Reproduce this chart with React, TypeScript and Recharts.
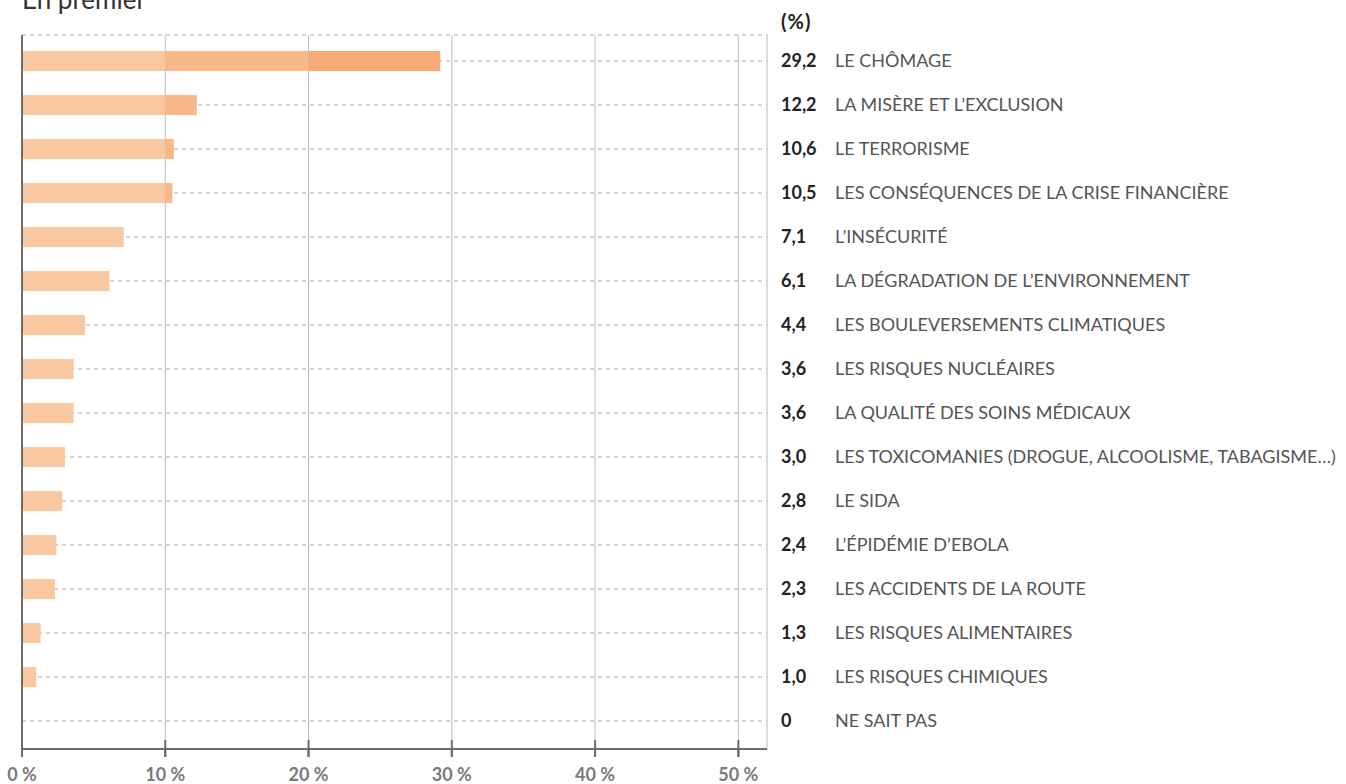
import React from "react";
import { BarChart, Bar, XAxis, YAxis, CartesianGrid, ReferenceLine } from "recharts";

const categories = [
  "LE CHÔMAGE",
  "LA MISÈRE ET L’EXCLUSION",
  "LE TERRORISME",
  "LES CONSÉQUENCES DE LA CRISE FINANCIÈRE",
  "L’INSÉCURITÉ",
  "LA DÉGRADATION DE L’ENVIRONNEMENT",
  "LES BOULEVERSEMENTS CLIMATIQUES",
  "LES RISQUES NUCLÉAIRES",
  "LA QUALITÉ DES SOINS MÉDICAUX",
  "LES TOXICOMANIES (DROGUE, ALCOOLISME, TABAGISME…)",
  "LE SIDA",
  "L’ÉPIDÉMIE D’EBOLA",
  "LES ACCIDENTS DE LA ROUTE",
  "LES RISQUES ALIMENTAIRES",
  "LES RISQUES CHIMIQUES",
  "NE SAIT PAS",
];
const values = [29.2, 12.2, 10.6, 10.5, 7.1, 6.1, 4.4, 3.6, 3.6, 3.0, 2.8, 2.4, 2.3, 1.3, 1.0, 0];
const xTicks = [0, 10, 20, 30, 40, 50];
const segmentColors = ["#FAC8A0", "#F9B98B", "#F7AB76"];

const fmt = (v: number) => (v === 0 ? "0" : v.toFixed(1).replace(".", ","));

const data = categories.map((name, i) => {
  const v = values[i];
  return {
    name,
    value: v,
    s1: Math.min(v, 10),
    s2: Math.min(Math.max(v - 10, 0), 10),
    s3: Math.max(v - 20, 0),
  };
});

const FONT = "Lato, 'Open Sans', sans-serif";

const RightTick = (props: any) => {
  const { x, y, payload, index } = props;
  const v = values[index];
  return (
    <g>
      <text x={x} y={y} dy={6} textAnchor="start" fontFamily={FONT} fontSize={18} fontWeight={700} fill="#222">
        {fmt(v)}
      </text>
      <text x={x + 54} y={y} dy={6} textAnchor="start" fontFamily={FONT} fontSize={18} fill="#555">
        {payload.value}
      </text>
    </g>
  );
};

const BottomTick = (props: any) => {
  const { x, y, payload } = props;
  return (
    <g>
      <line x1={x} x2={x} y1={y - 17} y2={y} stroke="#6d6d70" strokeWidth={2} />
      <text x={x} y={y + 24} textAnchor="middle" fontFamily={FONT} fontSize={18} fontWeight={700} fill="#7a7a7c">
        {`${payload.value} %`}
      </text>
    </g>
  );
};

export default function App() {
  return (
    <div style={{ position: "absolute", left: 0, top: 0, width: 1346, height: 784, background: "#fff", overflow: "hidden" }}>
      <div style={{ position: "absolute", left: 22, top: -17, fontFamily: FONT, fontSize: 26, color: "#333", whiteSpace: "nowrap" }}>
        En premier
      </div>
      <div style={{ position: "absolute", left: 781, top: 9, fontFamily: FONT, fontSize: 20, fontWeight: 700, color: "#222", letterSpacing: 1 }}>
        (%)
      </div>
      <BarChart
        width={1346}
        height={784}
        data={data}
        layout="vertical"
        margin={{ top: 35, right: 0, bottom: 0, left: 22 }}
        barSize={20}
      >
        <CartesianGrid horizontal={false} vertical={true} stroke="#bdbdbd" strokeWidth={1} />
        <CartesianGrid horizontal={true} vertical={false} stroke="#aaaaaa" strokeDasharray="4 4" />
        <XAxis
          type="number"
          domain={[0, 52]}
          ticks={xTicks}
          allowDataOverflow
          height={35}
          axisLine={{ stroke: "#6d6d70", strokeWidth: 2 }}
          tickLine={{ stroke: "#6d6d70", strokeWidth: 2 }}
          tickSize={8}
          tickMargin={0}
          tick={<BottomTick />}
          interval={0}
        />
        <YAxis
          type="category"
          dataKey="name"
          orientation="right"
          width={579}
          axisLine={false}
          tickLine={false}
          tickSize={0}
          tickMargin={14}
          tick={<RightTick />}
          interval={0}
          padding={{ top: 4, bottom: 6 }}
        />
        <Bar dataKey="s1" stackId="a" fill={segmentColors[0]} isAnimationActive={false} />
        <Bar dataKey="s2" stackId="a" fill={segmentColors[1]} isAnimationActive={false} />
        <Bar dataKey="s3" stackId="a" fill={segmentColors[2]} isAnimationActive={false} />
        <ReferenceLine x={0} stroke="#6d6d70" strokeWidth={2} />
      </BarChart>
    </div>
  );
}
